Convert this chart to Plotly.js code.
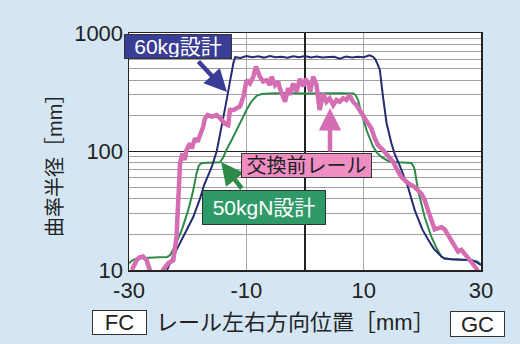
<!DOCTYPE html>
<html>
<head>
<meta charset="utf-8">
<script src="https://cdn.plot.ly/plotly-3.0.1.min.js"></script>
<style>html,body{margin:0;padding:0;background:#d4e6f3;}#chart{width:520px;height:344px;}</style>
</head>
<body>
<div id="chart"></div>
<script>
// 60kg design
const x60 = [-23.5,-23.0,-21.9,-20.5,-19.05,-17.9,-17.2,-16.5,-15.9,-15.06,-14.5,-14.0,-13.5,-13.14,-12.6,-12.2,-11.9,-11,-10,-9,-8,-7,-6,-5,-4,-3,-2,-1,0,1,2,3,4,5,5.9,7,8,9,10,11,11.6,12.0,12.4,12.75,13.3,13.9,14.74,15.3,16.15,17.0,17.56,18.7,20.0,21.0,22.0,23.25,23.8,25,27,28.4,29.3,30];
const y60 = [10,11.5,14.8,20,28,40,52,63,74,100,135,185,250,320,450,560,625,615,640,625,635,620,640,625,630,618,635,625,640,622,632,620,628,630,608,632,620,630,625,648,630,600,540,490,289,174,117,95,76,60,50,32,22,18,15,13,12.5,12.3,12.2,12.1,11.6,11];
// 50kgN design
const x50 = [-30,-29.3,-28.7,-27,-25,-23.5,-23,-22.2,-21.0,-19.9,-19.05,-18.5,-18.1,-17.6,-16,-14.5,-13.9,-13.4,-12.5,-11.66,-10.8,-9.96,-9.1,-8.25,-7.4,-6,-3,0,3,6,8.2,8.6,9.05,9.6,10.5,11.6,12.3,13.04,14.0,14.7,16,17.5,18.1,18.5,18.7,19.27,19.8,20.4,21.55,22.5,23.25,23.8,25,27,28.4,29.3,30];
const y50 = [11.4,12.2,12.5,12.7,12.8,12.9,13.3,15.7,21.8,32,47,65,76,80,80.5,81,90,103,125,150,185,225,265,295,305,308,311,309,311,310,309,300,272,210,151,110,97,90,84,82,81,81,80,75,70,47,36,28,19,15,13,12.5,12.3,12.2,12.1,11.8,11.2];
// rail before replacement
const xOld = [-29.5,-28.7,-28.2,-27.6,-27.0,-26.4,-26.0,-24.5,-24.2,-23.3,-22.45,-21.9,-21.6,-21.3,-20.9,-20.5,-20.2,-19.6,-19.3,-18.75,-18.3,-17.7,-17.35,-17.06,-16.6,-15.9,-15.07,-14.5,-13.65,-13.1,-12.8,-12.2,-11.66,-11.1,-10.5,-10.25,-9.96,-9.4,-8.8,-8.37,-8.0,-7.7,-7.13,-6.55,-6.0,-5.7,-5.1,-4.57,-4.3,-3.73,-3.4,-2.87,-2.6,-2.0,-1.44,-0.88,-0.3,0.1,0.54,0.9,1.39,1.96,2.5,3.09,3.66,4.2,4.8,5.37,5.9,6.5,7.07,7.6,8.2,8.77,9.34,10.2,10.75,11.3,11.9,12.45,13.3,14.16,15.0,16.0,16.44,17.56,18.7,19.85,20.4,20.97,21.5,22.1,22.67,23.25,23.8,24.67,25.5,26.1,26.65,27.2,28.1,29.2,29.6];
const yOld = [10,12.1,12.8,13.0,12.1,10,8.5,8.5,10,11.4,12.1,19,42,80,96,85,103,117,106,129,121,142,162,190,203,197,203,192,172,167,224,224,232,240,290,355,400,375,428,520,470,428,390,400,363,428,363,390,343,281,263,343,300,375,320,410,355,410,375,320,428,363,224,310,263,281,246,272,263,281,272,300,263,246,218,190,172,157,129,113,103,93,82,66,61,54,50,44,39,32,26,22,22.5,23,22,18.5,15.7,14.3,14.8,13.8,12.1,10.3,9.5];

const xTicks = [-30,-10,10,30];
const yTicks = [10,100,1000];
const yMinor = [20,30,40,50,60,70,80,90,200,300,400,500,600,700,800,900];

const navy = '#262b72', green = '#2f8a4a', pink = '#d46db2';
const FONT = 'Liberation Sans, Noto Sans CJK JP, sans-serif';

const traces = [
  {x: x50, y: y50, type: 'scatter', mode: 'lines', line: {color: green, width: 2}, name: '50kgN設計'},
  {x: x60, y: y60, type: 'scatter', mode: 'lines', line: {color: navy, width: 2}, name: '60kg設計'},
  {x: xOld, y: yOld, type: 'scatter', mode: 'lines', line: {color: pink, width: 4.5}, name: '交換前レール'}
];

function box(text, cx, cy, w, h, bg, fc, size) {
  return {xref: 'paper', yref: 'paper', x: cx, y: cy, xanchor: 'center', yanchor: 'middle',
    text: text, showarrow: false, bgcolor: bg, bordercolor: '#333', borderwidth: 1, borderpad: 1,
    width: w, height: h, font: {family: FONT, size: size, color: fc}};
}
function arrow(x, y, ax, ay, col) {
  return {xref: 'paper', yref: 'paper', x: x, y: y, ax: ax, ay: ay, text: '', showarrow: true,
    arrowhead: 2, arrowsize: 1, arrowwidth: 4.5, arrowcolor: col, standoff: 0, startstandoff: 0};
}

const layout = {
  width: 520, height: 344,
  margin: {l: 129, r: 39, t: 33, b: 74},
  paper_bgcolor: '#d4e6f3', plot_bgcolor: '#ffffff',
  showlegend: false,
  font: {family: FONT, color: '#222', size: 22},
  xaxis: {range: [-30, 30], tickmode: 'array', tickvals: xTicks, ticktext: xTicks.map(String),
    showgrid: true, gridcolor: '#a8a8a8', gridwidth: 1.5, zeroline: true, zerolinecolor: '#222', zerolinewidth: 1.5,
    showline: true, mirror: true, linecolor: '#222', linewidth: 1.5, ticks: '',
    tickfont: {size: 22, color: '#222'}},
  yaxis: {type: 'log', range: [1, 3], tickmode: 'array', tickvals: yTicks, ticktext: yTicks.map(String),
    showgrid: true, gridcolor: '#222', gridwidth: 1.5,
    minor: {tickmode: 'array', tickvals: yMinor, showgrid: true, gridcolor: '#a0a0a0', gridwidth: 1, ticks: ''},
    showline: true, mirror: true, linecolor: '#222', linewidth: 1.5, ticks: '',
    tickfont: {size: 22, color: '#222'}},
  annotations: [
    arrow(0.2784, 0.751, -30, -32, '#3a3d95'),
    arrow(0.571, 0.6835, 0, 45, '#d46db2'),
    arrow(0.2614, 0.4557, 22, 28, '#2f8a4a'),
    box('60kg設計', 0.1392, 0.943, 104, 21, '#3a3d95', '#ffffff', 21),
    box('交換前レール', 0.5043, 0.4409, 127, 21, '#ee8ec3', '#222', 20),
    box('50kgN設計', 0.3835, 0.2637, 120, 31, '#2f9a68', '#ffffff', 21),
    {xref: 'paper', yref: 'paper', x: -0.2102, y: 0.46, text: '曲率半径［mm］', textangle: -90, showarrow: false,
      xanchor: 'center', yanchor: 'middle', font: {family: FONT, size: 20, color: '#222'}},
    {xref: 'paper', yref: 'paper', x: 0.4744, y: -0.2236, text: 'レール左右方向位置［mm］', showarrow: false,
      xanchor: 'center', yanchor: 'middle', font: {family: FONT, size: 22, color: '#222'}},
    box('FC', -0.027, -0.2215, 51, 21, '#ffffff', '#222', 22),
    box('GC', 0.990, -0.2278, 51, 22, '#ffffff', '#222', 22)
  ]
};

Plotly.newPlot('chart', traces, layout, {displayModeBar: false, staticPlot: true});
</script>
</body>
</html>
